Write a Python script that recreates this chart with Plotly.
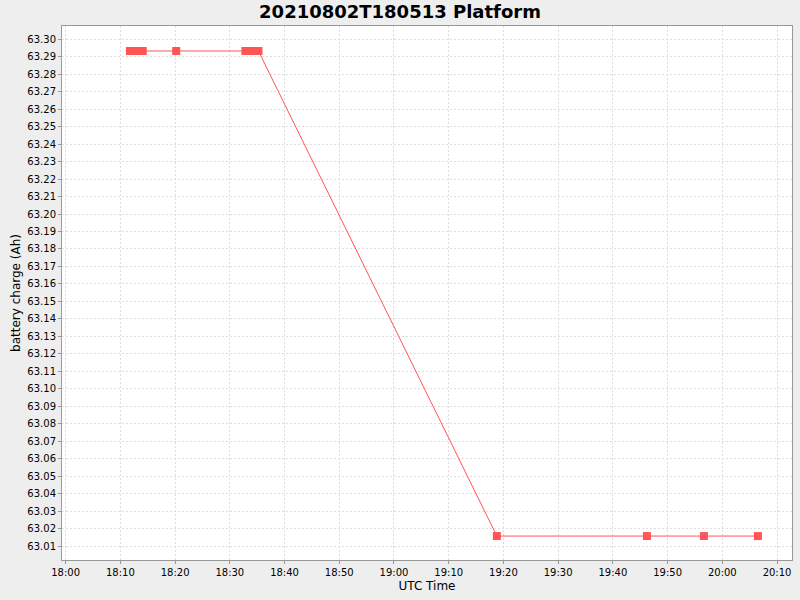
from plotly.graph_objects import Figure, Scatter


day = "2021-08-02 "

times = [
    "18:11:45", "18:12:05", "18:12:25", "18:12:45", "18:13:05", "18:13:25", "18:13:45", "18:14:05",
    "18:20:12",
    "18:32:51", "18:33:11", "18:33:31", "18:33:51", "18:34:11", "18:34:31", "18:34:51", "18:35:14",
    "19:18:48", "19:46:13", "19:56:38", "20:06:30",
]
charge = [
    63.2933, 63.2933, 63.2933, 63.2933, 63.2933, 63.2933, 63.2933, 63.2933,
    63.2933,
    63.2933, 63.2933, 63.2933, 63.2933, 63.2933, 63.2933, 63.2933, 63.2933,
    63.0157, 63.0157, 63.0157, 63.0157,
]

red     = "#FF5555"
grid    = "#DDDDDD"
axis    = "#999999"
font    = "DejaVu Sans"

fig = Figure()

fig.add_trace(Scatter(
    x       = [ day + t for t in times ],
    y       = charge,
    mode    = "lines+markers",
    line    = { "color": red, "width": 1 },
    marker  = { "symbol": "square", "size": 8, "color": red },
    showlegend = False,
))

fig.update_layout(
    width           = 800,
    height          = 600,
    paper_bgcolor   = "#EEEEEE",
    plot_bgcolor    = "#FFFFFF",
    margin          = { "l": 62, "r": 8, "t": 26, "b": 40 },
    font            = { "family": font, "size": 10, "color": "#000000" },
    title           = {
        "text": "<b>20210802T180513 Platform</b>",
        "x": 0.5, "xanchor": "center", "y": 0.98, "yanchor": "middle",
        "font": { "family": font, "size": 18, "color": "#000000" },
    },
)

common = dict(
    ticks       = "outside",
    ticklen     = 3,
    tickcolor   = axis,
    showline    = True,
    linecolor   = axis,
    mirror      = True,
    showgrid    = True,
    gridcolor   = grid,
    griddash    = "2px,2px",
    gridwidth   = 1,
    zeroline    = False,
    tickfont    = { "family": font, "size": 10 },
)

fig.update_xaxes(
    type        = "date",
    range       = [ day + "17:59:20", day + "20:12:44" ],
    tick0       = day + "18:00:00",
    dtick       = 600000,
    tickformat  = "%H:%M",
    title       = { "text": "UTC Time", "font": { "family": font, "size": 12 }, "standoff": 4 },
    **common,
)

fig.update_yaxes(
    range       = [ 63.002, 63.3076 ],
    tick0       = 63.0,
    dtick       = 0.01,
    tickformat  = ".2f",
    title       = { "text": "battery charge (Ah)", "font": { "family": font, "size": 12 }, "standoff": 4 },
    **common,
)

fig.write_html(
    "out.html",
    config      = { "displayModeBar": False },
    post_script = "document.body.style.margin = '0px'; document.body.style.background = '#EEEEEE';",
)
